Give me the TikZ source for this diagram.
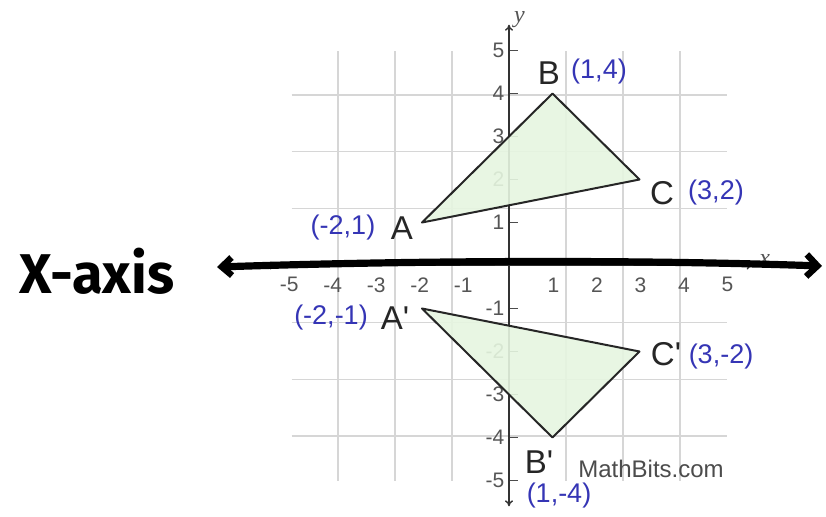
\documentclass[tikz,border=0pt]{standalone}
\usepackage{fontspec}
\setmainfont{Liberation Sans}
\newfontfamily\handfont{Fira Sans}
\newfontfamily\serifit{Liberation Serif}
\usetikzlibrary{arrows.meta}
\definecolor{gridgray}{HTML}{D6D6D6}
\definecolor{ticklab}{HTML}{555555}
\definecolor{ptblue}{HTML}{3535B5}
\definecolor{trifill}{HTML}{E6F6E0}
\tikzset{
  gridline/.style={draw=gridgray, line width=0.8pt},
  axisline/.style={draw=black!80, line width=0.7pt, -{To[length=3pt,width=4pt]}},
  ticklabel/.style={text=ticklab, font=\fontsize{10.5}{11}\selectfont, inner sep=0pt},
  tri/.style={fill=trifill, fill opacity=0.9, draw=black!85, line width=1pt, line join=round},
  vname/.style={font=\fontsize{16.5}{18}\selectfont, text=black!85, inner sep=0pt},
  coordlab/.style={font=\fontsize{13.5}{15}\selectfont, text=ptblue, inner sep=0pt},
  handline/.style={line width=3.6pt, line cap=round, line join=round,
     {Straight Barb[length=5pt,width=9pt,line width=3.2pt]}-{Straight Barb[length=5.5pt,width=11pt,line width=3.2pt]}},
}
\begin{document}
\begin{tikzpicture}[x=0.5pt,y=-0.5pt]
\useasboundingbox (0,0) rectangle (826,516);
\fill[white] (0,0) rectangle (826,516);
\begin{scope}[shift={(509,265.5)}, x=21.75pt, y=21.5pt]
  \draw[gridline] (-5,-5) grid (5,5);
  % tick labels
  \foreach \k in {-5,-4,-3,-2,-1} \node[ticklabel] (xl\k) at (\k-0.05,-0.45) {\k};
  \foreach \k in {1,2,3,4,5} \node[ticklabel] (xl\k) at (\k+0.02,-0.45) {\k};
  \foreach \k in {-5,-4,-3,-2,-1,1,2,3,4,5} {
    \node[ticklabel, anchor=east] (yl\k) at (-0.1,\k) {\k};
    \draw[black!70, line width=0.6pt] (0,\k) -- (0.2,\k);
  }
  \coordinate (xaL) at (-5.6,0); \coordinate (xaR) at (5.6,0);
  \coordinate (yaB) at (0,-5.6); \coordinate (yaT) at (0,5.6);
  \draw[axisline] (0,0) -- (yaT);
  \draw[axisline] (0,0) -- (yaB);
  \draw[axisline] (0,0) -- (xaL);
  \draw[axisline] (0,0) -- (xaR);
  \node[text=ticklab, font=\serifit\itshape\fontsize{12}{13}\selectfont, inner sep=0pt] (ylab) at (0.24,5.72) {y};
  \node[text=ticklab, font=\serifit\itshape\fontsize{12}{13}\selectfont, inner sep=0pt] (xlab) at (5.88,0.12) {x};
  % triangles
  \coordinate (A) at (-2,1); \coordinate (B) at (1,4); \coordinate (C) at (3,2);
  \coordinate (A') at (-2,-1); \coordinate (B') at (1,-4); \coordinate (C') at (3,-2);
  \filldraw[tri] (A) -- (B) -- (C) -- cycle;
  \filldraw[tri] (A') -- (B') -- (C') -- cycle;
\end{scope}
% vertex labels (pixel coordinates)
\node[vname] (nB) at (549,73) {B};
\node[coordlab] (cB) at (599,72) {(1,4)};
\node[vname] (nA) at (402,228) {A};
\node[coordlab] (cA) at (343,228) {(-2,1)};
\node[vname] (nC) at (662,193) {C};
\node[coordlab] (cC) at (716,193) {(3,2)};
\node[vname] (nA2) at (395,318) {A\textquotesingle};
\node[coordlab] (cA2) at (331,318) {(-2,-1)};
\node[vname] (nC2) at (666,354) {C\textquotesingle};
\node[coordlab] (cC2) at (721,357) {(3,-2)};
\node[vname] (nB2) at (539,462) {B\textquotesingle};
\node[coordlab] (cB2) at (559,496) {(1,-4)};
\node[text=black!70, font=\fontsize{12}{13}\selectfont, inner sep=0pt] (mb) at (651,469) {MathBits.com};
% hand drawn axis
\coordinate (hl) at (217,267);
\coordinate (hr) at (822,266);
\draw[handline] (hl) .. controls (400,261) and (620,259) .. (hr);
\node[font=\handfont\bfseries\fontsize{28}{30}\selectfont, inner sep=0pt] (xaxis) at (97,271) {X-axis};
\end{tikzpicture}
\end{document}
